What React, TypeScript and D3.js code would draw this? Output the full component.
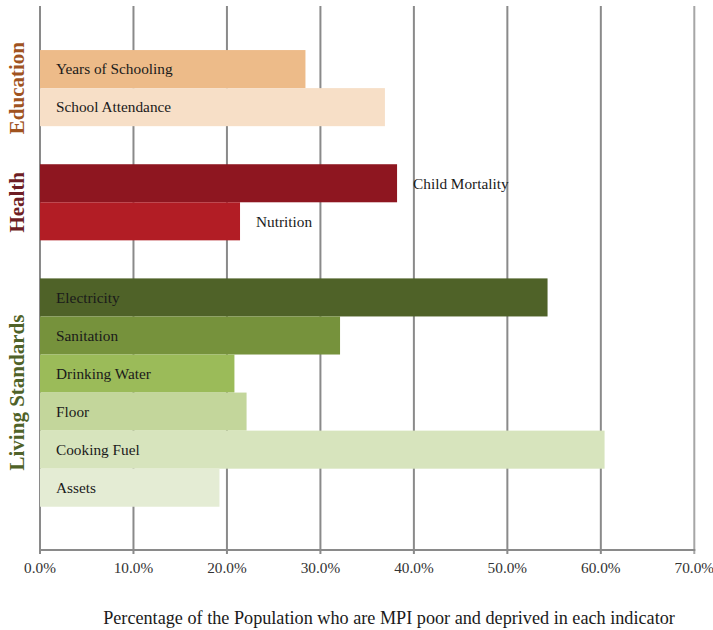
import React from "react";
import * as d3 from "d3";

const categories = [
  "Years of Schooling",
  "School Attendance",
  "Child Mortality",
  "Nutrition",
  "Electricity",
  "Sanitation",
  "Drinking Water",
  "Floor",
  "Cooking Fuel",
  "Assets",
];
const values = [28.4, 36.9, 38.2, 21.4, 54.3, 32.1, 20.8, 22.1, 60.4, 19.2];
const groupOf = [
  "Education",
  "Education",
  "Health",
  "Health",
  "Living Standards",
  "Living Standards",
  "Living Standards",
  "Living Standards",
  "Living Standards",
  "Living Standards",
];
const groups = ["Education", "Health", "Living Standards"];
const labelOutside = [false, false, true, true, false, false, false, false, false, false];
const xTicks = [0, 10, 20, 30, 40, 50, 60, 70];
const axisTitle = "Percentage of the Population who are MPI poor and deprived in each indicator";

const barColors = [
  "#EDBB89",
  "#F7DFC7",
  "#8E1620",
  "#B21D25",
  "#4F6228",
  "#76923C",
  "#9BBB59",
  "#C3D69B",
  "#D7E4BD",
  "#E4ECD4",
];
const groupColors: Record<string, string> = {
  Education: "#A0531F",
  Health: "#6E1E24",
  "Living Standards": "#4F6228",
};

const W = 713;
const H = 630;
const FONT = "'Liberation Serif', 'DejaVu Serif', serif";

export default function App() {
  const slots: string[] = [];
  groups.forEach((g, gi) => {
    slots.push(`gap-${gi}`);
    categories.forEach((c, i) => {
      if (groupOf[i] === g) slots.push(c);
    });
  });
  slots.push("gap-end");

  const x = d3.scaleLinear().domain([0, 70]).range([40, 694.3]);
  const y = d3.scaleBand<string>().domain(slots).range([12, 544.8]).paddingInner(0).paddingOuter(0);
  const bw = y.bandwidth();
  const plotTop = 6;
  const plotBottom = 550;
  const fmt = (v: number) => d3.format(".1f")(v) + "%";

  return (
    <div style={{ position: "absolute", left: 0, top: 0 }}>
      <svg width={W} height={H} style={{ display: "block", background: "#fff" }}>
        {xTicks.map((t) => (
          <line
            key={t}
            x1={x(t)}
            x2={x(t)}
            y1={plotTop}
            y2={plotBottom + 4}
            stroke={t === 70 ? "#a6a6a6" : "#8a8a8a"}
            strokeWidth={2}
          />
        ))}
        {categories.map((c, i) => (
          <rect
            key={c}
            x={x(0)}
            y={y(c)!}
            width={x(values[i]) - x(0)}
            height={bw}
            fill={barColors[i]}
          />
        ))}
        <line x1={x(0) - 1} x2={x(70) + 1} y1={plotBottom} y2={plotBottom} stroke="#8a8a8a" strokeWidth={2} />
        {categories.map((c, i) => (
          <text
            key={c + "-lbl"}
            x={labelOutside[i] ? x(values[i]) + 16 : x(0) + 16}
            y={y(c)! + bw / 2}
            dy="0.35em"
            fontFamily={FONT}
            fontSize={15.3}
            fill="#1a1a1a"
          >
            {c}
          </text>
        ))}
        {groups.map((g) => {
          const idx = categories.map((c, i) => (groupOf[i] === g ? i : -1)).filter((i) => i >= 0);
          const y0 = y(categories[idx[0]])!;
          const y1 = y(categories[idx[idx.length - 1]])! + bw;
          const cy = (y0 + y1) / 2;
          return (
            <text
              key={g}
              transform={`translate(24,${cy}) rotate(-90)`}
              textAnchor="middle"
              fontFamily={FONT}
              fontSize={21}
              fontWeight="bold"
              fill={groupColors[g]}
            >
              {g}
            </text>
          );
        })}
        {xTicks.map((t) => (
          <text
            key={t + "-t"}
            x={x(t)}
            y={573}
            textAnchor="middle"
            fontFamily={FONT}
            fontSize={15.3}
            fill="#333"
          >
            {fmt(t)}
          </text>
        ))}
        <text x={389} y={624} textAnchor="middle" fontFamily={FONT} fontSize={18.2} fill="#1a1a1a">
          {axisTitle}
        </text>
      </svg>
    </div>
  );
}
